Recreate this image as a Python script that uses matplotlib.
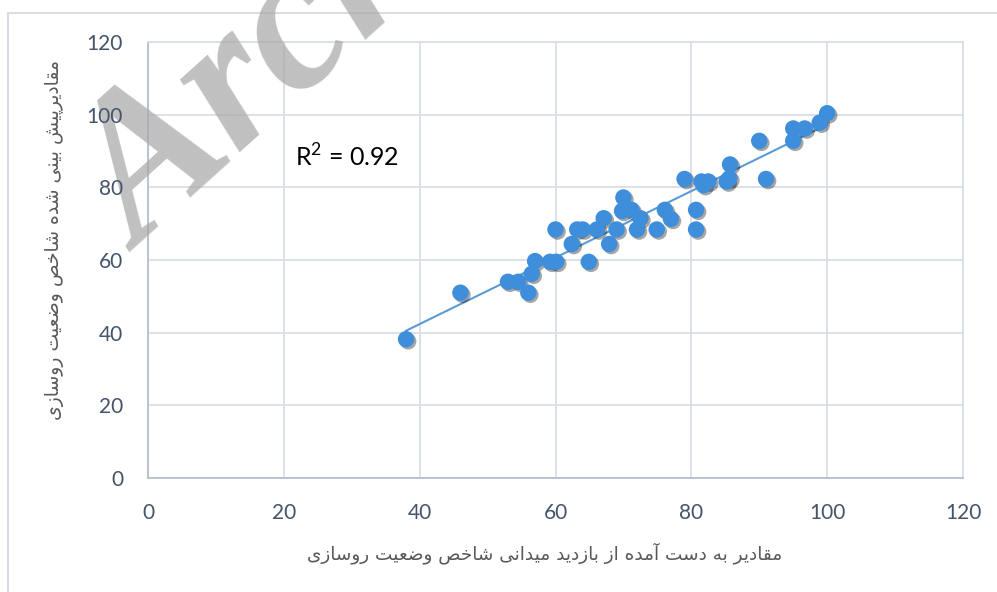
import numpy as np
import matplotlib
matplotlib.use('Agg')
import matplotlib.pyplot as plt
import matplotlib.patheffects as pe
from matplotlib.patches import Rectangle

# field survey PCI vs predicted PCI
x_field = [38, 46, 53, 54.5, 56.5, 56, 57, 59.2, 60.1, 60, 62.4, 64.9, 63.2, 64,
           66.1, 67.1, 67.9, 69, 70, 69.8, 71.2, 72, 72.5, 74.9, 76.1, 77, 80.7,
           80.7, 79, 81.5, 82.5, 81.8, 85.2, 85.6, 85.7, 91, 90, 95, 95, 96.7,
           98.9, 100]
y_pred = [38.2, 51, 54, 54, 56.2, 51, 59.7, 59.5, 59.5, 68.4, 64.4, 59.5, 68.4, 68.4,
          68.4, 71.5, 64.4, 68.4, 77.2, 73.5, 73.8, 68.4, 71.5, 68.4, 73.8, 71.3, 73.8,
          68.4, 82.3, 81.6, 81.6, 80.6, 81.6, 82.5, 86.3, 82.3, 92.8, 96.2, 92.8, 96.2,
          97.8, 100.4]
ticks = [0, 20, 40, 60, 80, 100, 120]
r2_label = r'R$^2$ = 0.92'
xlabel = 'مقادیر به دست آمده از بازدید میدانی شاخص وضعیت روسازی'
ylabel = 'مقادیرپیش بینی شده شاخص وضعیت روسازی'

# (isolated, final, initial, medial) - None means the letter does not join forward
FORMS = {
    'ا': ('\uFE8D', '\uFE8E', None, None),
    'آ': ('\uFE81', '\uFE82', None, None),
    'د': ('\uFEA9', '\uFEAA', None, None),
    'ر': ('\uFEAD', '\uFEAE', None, None),
    'ز': ('\uFEAF', '\uFEB0', None, None),
    'و': ('\uFEED', '\uFEEE', None, None),
    'ب': ('\uFE8F', '\uFE90', '\uFE91', '\uFE92'),
    'پ': ('\uFB56', '\uFB57', '\uFB58', '\uFB59'),
    'ت': ('\uFE95', '\uFE96', '\uFE97', '\uFE98'),
    'خ': ('\uFEA5', '\uFEA6', '\uFEA7', '\uFEA8'),
    'س': ('\uFEB1', '\uFEB2', '\uFEB3', '\uFEB4'),
    'ش': ('\uFEB5', '\uFEB6', '\uFEB7', '\uFEB8'),
    'ص': ('\uFEB9', '\uFEBA', '\uFEBB', '\uFEBC'),
    'ض': ('\uFEBD', '\uFEBE', '\uFEBF', '\uFEC0'),
    'ع': ('\uFEC9', '\uFECA', '\uFECB', '\uFECC'),
    'ق': ('\uFED5', '\uFED6', '\uFED7', '\uFED8'),
    'م': ('\uFEE1', '\uFEE2', '\uFEE3', '\uFEE4'),
    'ن': ('\uFEE5', '\uFEE6', '\uFEE7', '\uFEE8'),
    'ه': ('\uFEE9', '\uFEEA', '\uFEEB', '\uFEEC'),
    'ی': ('\uFEEF', '\uFEF0', '\uFEF3', '\uFEF4'),
}


def shape(text):
    # crude arabic/persian shaping + RTL reversal (no reshaper lib available)
    out = []
    for i, ch in enumerate(text):
        if ch not in FORMS:
            out.append(ch)
            continue
        prev = text[i - 1] if i > 0 else ''
        nxt = text[i + 1] if i + 1 < len(text) else ''
        jp = prev in FORMS and FORMS[prev][2] is not None
        jn = FORMS[ch][2] is not None and nxt in FORMS
        iso, fin, ini, med = FORMS[ch]
        if jp and jn:
            out.append(med)
        elif jp:
            out.append(fin)
        elif jn:
            out.append(ini)
        else:
            out.append(iso)
    return ''.join(out)[::-1]


plt.rcParams['mathtext.fontset'] = 'custom'
plt.rcParams['mathtext.rm'] = 'Lato'

W, H = 997, 592
rect = [148 / W, 1 - 478 / H, (963 - 148) / W, (478 - 42) / H]
fig = plt.figure(figsize=(W / 100, H / 100), dpi=100)
ax = fig.add_axes(rect, zorder=0)

grid_c = '#d9dee7'
axis_c = '#b4bfce'
tick_c = '#44546a'

# trendline from linear fit
k, b = np.polyfit(x_field, y_pred, 1)
xs = np.array([min(x_field), max(x_field)])
ax.plot(xs, k * xs + b, color='#5b9bd5', lw=1.5, zorder=2)

ax.scatter(x_field, y_pred, s=140, color='#3f8edb', zorder=3, linewidths=0,
           path_effects=[pe.SimplePatchShadow(offset=(1.5, -1.5), shadow_rgbFace='k', alpha=0.35),
                         pe.Normal()])

ax.set_xlim(0, 120)
ax.set_ylim(0, 120)
ax.set_xticks(ticks)
ax.set_yticks(ticks)
ax.grid(True, color=grid_c, lw=1.3)
ax.set_axisbelow(True)
for s in ['top', 'right']:
    ax.spines[s].set_color(grid_c)
    ax.spines[s].set_linewidth(1.3)
for s in ['left', 'bottom']:
    ax.spines[s].set_color(axis_c)
    ax.spines[s].set_linewidth(1.3)
ax.tick_params(length=0, labelleft=False, labelbottom=False)

ax.text(21.6, 88.4, r2_label, fontsize=18, family='Lato', va='center', ha='left', color='black')

# overlay axes so the tick labels sit above the watermark
ax2 = fig.add_axes(rect, zorder=11)
ax2.set_xlim(0, 120)
ax2.set_ylim(0, 120)
ax2.set_xticks(ticks)
ax2.set_yticks(ticks)
ax2.patch.set_visible(False)
for s in ax2.spines.values():
    s.set_visible(False)
ax2.tick_params(length=0, pad=18, labelsize=15, labelcolor=tick_c)
for lab in ax2.get_xticklabels() + ax2.get_yticklabels():
    lab.set_fontfamily('Lato')

fig.text(545 / W, 1 - 553 / H, shape(xlabel), fontsize=13.3, family='DejaVu Sans',
         color='#595959', ha='center', va='center', zorder=12)
fig.text(55 / W, 1 - 240 / H, shape(ylabel), fontsize=13.5, family='DejaVu Sans',
         color='#595959', ha='center', va='center', rotation=90, zorder=12)

# chart area border
fig.add_artist(Rectangle((8 / W, -0.1), 1.1, 1.1 - 13 / H, transform=fig.transFigure,
                         fill=False, edgecolor='#d9dde3', lw=1.5))

# watermark
fig.text(140 / W, 1 - 252 / H, 'Archive of SID', fontsize=146, family='Liberation Serif',
         weight='bold', style='italic', color='#a8a8a8', alpha=0.72, rotation=42,
         rotation_mode='anchor', ha='left', va='baseline', zorder=10)

fig.savefig('out.png', dpi=100)
